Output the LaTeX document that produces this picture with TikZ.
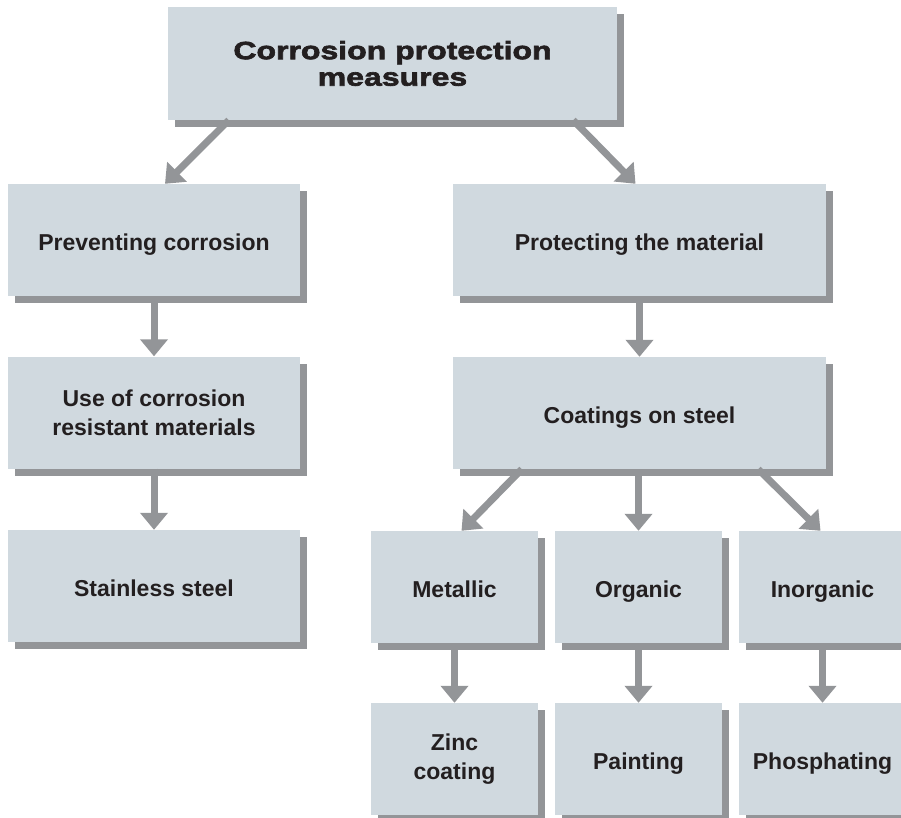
\documentclass[tikz,border=0pt]{standalone}
\usepackage{fontspec}
\setmainfont{Liberation Sans}
\newfontfamily\titlefont{Liberation Sans Bold}[FakeStretch=1.28,FakeBold=2.6]
\usetikzlibrary{arrows.meta,shadows,calc}
\definecolor{boxfill}{HTML}{D0D9DF}
\definecolor{shadowgrey}{HTML}{939598}
\definecolor{textdark}{HTML}{231F20}
\begin{document}
\begin{tikzpicture}[x=1pt,y=-1pt,
  box/.style={fill=boxfill, text=textdark, align=center, inner sep=0pt,
    minimum height=112pt,
    font=\bfseries\fontsize{23}{29}\selectfont,
    drop shadow={shadow xshift=7pt, shadow yshift=-7pt, fill=shadowgrey, opacity=1}},
  oneline/.style={text height=21pt, text depth=0pt},
  widebox/.style={box, minimum width=292pt},
  bigbox/.style={box, minimum width=373pt},
  smallbox/.style={box, minimum width=167pt},
  arr/.style={draw=shadowgrey, line width=7pt, -{Triangle[width=27pt,length=17pt]}}]
\useasboundingbox (0,0) rectangle (901,818);

\node[box, minimum width=449pt, minimum height=113pt,
  font=\titlefont\fontsize{25}{26.5}\selectfont] (top) at (392.5,63.5) {Corrosion protection\\measures};

\node[widebox, oneline] (prev) at (154,240) {Preventing corrosion};
\node[widebox] (use) at (154,412.5) {Use of corrosion\\resistant materials};
\node[widebox, oneline] (stainless) at (154,586) {Stainless steel};

\node[bigbox, oneline] (prot) at (639.5,240) {Protecting the material};
\node[bigbox, oneline] (coat) at (639.5,413) {Coatings on steel};

\node[smallbox, oneline] (metallic) at (454.5,587) {Metallic};
\node[smallbox, oneline] (organic) at (638.5,587) {Organic};
\node[smallbox, oneline] (inorganic) at (822.5,587) {Inorganic};
\node[smallbox] (zinc) at (454.5,759) {Zinc\\coating};
\node[smallbox, oneline] (painting) at (638.5,759) {Painting};
\node[smallbox, oneline] (phosph) at (822.5,759) {Phosphating};

\draw[arr] ($(top.south west)+(61,0)$) -- ($(prev.north)+(11,0)$);
\draw[arr] ($(top.south east)+(-44,0)$) -- ($(prot.north)+(-4,0)$);

\draw[arr] (prev.south) -- (use.north);
\draw[arr] (use.south) -- (stainless.north);
\draw[arr] (prot.south) -- (coat.north);

\draw[arr] ($(coat.south west)+(69,0)$) -- ($(metallic.north)+(7,0)$);
\draw[arr] (coat.south -| organic.north) -- (organic.north);
\draw[arr] ($(coat.south east)+(-68,0)$) -- ($(inorganic.north)+(-2,0)$);

\draw[arr] (metallic.south) -- (zinc.north);
\draw[arr] (organic.south) -- (painting.north);
\draw[arr] (inorganic.south) -- (phosph.north);
\end{tikzpicture}
\end{document}
